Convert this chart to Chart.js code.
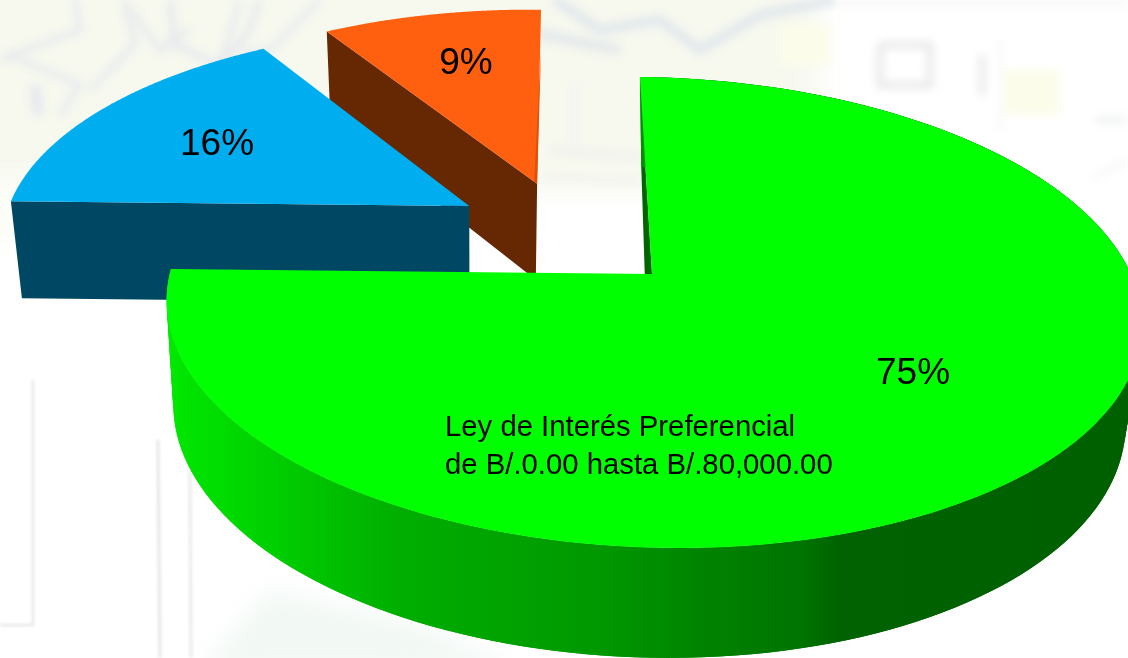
<!DOCTYPE html>
<html><head><meta charset="utf-8">
<style>html,body{margin:0;padding:0;background:#fff;overflow:hidden}canvas{display:block}</style>
<script src="https://cdn.jsdelivr.net/npm/chart.js@4"></script>
</head><body><canvas id="c" width="1128" height="658"></canvas>
<script>
const categories = ["Ley de Interés Preferencial de B/.0.00 hasta B/.80,000.00", "Segundo tramo", "Tercer tramo"];
const shares = [75, 16, 9];
const topColors = ["#00ff00", "#00aeef", "#ff6010"];
const wallColors = ["#006400", "#004763", "#662803"];
const annotationLines = ["Ley de Interés Preferencial", "de B/.0.00 hasta B/.80,000.00"];
const explode = [[0, 0], [-0.39, 0.3025], [-0.243, 0.415]];
const labelSpots = [[913, 374], [217, 145], [466, 64]];

// perspective view of the pie's ground plane
const view = {cx: 652, cy: 274, rx: 481, ry: 229, k: 0.1635, shear: 0.061, roll: 0.0104};
function project(X, Y, low, lean) {
  const w = 1 + view.k * Y;
  const up = view.ry * Y / w;
  let x = view.cx + view.rx * X / w - view.shear * up;
  let y = view.cy - up + view.roll * (x - view.cx);
  if (low) {
    x += 0.0234 * (481 - x) + lean * Y;
    y += 100 - 10 * Y;
  }
  return [x, y];
}
function ringPoints(arc, i, low) {
  const pts = [];
  const n = 160;
  const [ox, oy] = explode[i];
  for (let j = 0; j <= n; j++) {
    const t = arc.startAngle + (arc.endAngle - arc.startAngle) * j / n + Math.PI / 2;
    pts.push(project(ox + Math.sin(t), oy + Math.cos(t), low, i === 0 ? 5 : 0));
  }
  return pts;
}
function fillPoly(ctx, pts, fill) {
  ctx.beginPath();
  pts.forEach((p, j) => j ? ctx.lineTo(p[0], p[1]) : ctx.moveTo(p[0], p[1]));
  ctx.closePath();
  ctx.fillStyle = fill;
  ctx.fill();
}
const pie3d = {
  id: "pie3d",
  beforeDatasetDraw(chart) {
    const ctx = chart.ctx;
    const arcs = chart.getDatasetMeta(0).data;
    ctx.save();
    // far slices first
    [2, 1, 0].forEach(i => {
      const arc = arcs[i];
      const top = ringPoints(arc, i, false);
      const low = ringPoints(arc, i, true);
      const lean = i === 0 ? 5 : 0;
      const a = project(explode[i][0], explode[i][1], false, lean);
      const b = project(explode[i][0], explode[i][1], true, lean);
      fillPoly(ctx, [a, top[0], low[0], b], wallColors[i]);
      if (i === 0) {
        const g = ctx.createLinearGradient(170, 0, 1128, 0);
        [[0, "#00e800"], [0.136, "#00c800"], [0.24, "#00ae00"], [0.45, "#009800"], [0.553, "#008400"], [0.658, "#007400"], [0.7, "#006200"], [1, "#006000"]]
          .forEach(s => g.addColorStop(s[0], s[1]));
        // the curved outer wall, strip by strip
        for (let j = 0; j < top.length - 1; j++) {
          const k = Math.min(j + 2, top.length - 1);
          fillPoly(ctx, [top[j], top[k], low[k], low[j]], g);
        }
      }
      fillPoly(ctx, [a].concat(top), topColors[i]);
      if (i === 2) {
        const e = top[top.length - 1];
        fillPoly(ctx, [[e[0], e[1] + 40], a, [a[0] - 3, a[1] - 2]], "#e0500a");
      }
    });
    ctx.restore();
    return false;
  },
  afterDatasetsDraw(chart) {
    const ctx = chart.ctx;
    ctx.save();
    ctx.fillStyle = "#000";
    ctx.font = "37px 'Liberation Sans', Arial, sans-serif";
    ctx.textAlign = "center";
    ctx.textBaseline = "middle";
    shares.forEach((v, i) => ctx.fillText(v + "%", labelSpots[i][0], labelSpots[i][1]));
    ctx.font = "29.3px 'Liberation Sans', Arial, sans-serif";
    ctx.textAlign = "left";
    ctx.textBaseline = "alphabetic";
    annotationLines.forEach((t, i) => ctx.fillText(t, 445, 436 + i * 38));
    ctx.restore();
  }
};
const backdrop = {
  id: "backdrop",
  beforeDraw(chart) {
    const ctx = chart.ctx;
    ctx.save();
    ctx.fillStyle = "#fff";
    ctx.fillRect(0, 0, 1128, 658);
    ctx.filter = "blur(14px)";
    ctx.fillStyle = "#f7f9ef";
    ctx.fillRect(-40, -40, 860, 230);
    ctx.fillStyle = "#fcfdf6";
    ctx.fillRect(-40, 180, 120, 60);
    ctx.filter = "blur(4px)";
    const line = (pts, c, w) => {
      ctx.beginPath();
      pts.forEach((p, j) => j ? ctx.lineTo(p[0], p[1]) : ctx.moveTo(p[0], p[1]));
      ctx.strokeStyle = c; ctx.lineWidth = w; ctx.stroke();
    };
    const grey = "#e6e9ed";
    line([[0, 60], [80, 30], [75, 0]], grey, 6);
    line([[10, 55], [80, 85], [60, 115]], grey, 6);
    line([[35, 85], [38, 115]], grey, 12);
    line([[125, 0], [135, 45], [90, 90]], grey, 6);
    line([[130, 10], [160, 50], [190, 30]], grey, 6);
    line([[170, 0], [175, 45], [220, 65], [250, 30], [258, 0]], grey, 7);
    line([[240, 0], [220, 70]], grey, 6);
    line([[320, 0], [270, 50], [240, 50]], grey, 6);
    line([[555, 0], [600, 30], [660, 20], [700, 50], [760, 15], [835, 0]], "#e2e7ec", 10);
    line([[520, 30], [620, 50]], "#e6eaea", 12);
    line([[550, 150], [640, 156]], "#e6e8e8", 3);
    line([[545, 178], [640, 182]], "#e9eae8", 3);
    line([[575, 85], [575, 150]], "#f2f0f7", 4);
    line([[880, 45], [930, 45], [930, 85], [880, 85], [880, 45]], "#e9e9eb", 7);
    line([[982, 55], [982, 95]], "#e7e7e9", 6);
    line([[840, 3], [1128, 3]], "#efefef", 3);
    ctx.fillStyle = "#fcfcea"; ctx.fillRect(1005, 70, 55, 45);
    ctx.fillRect(780, 25, 50, 40);
    line([[1000, 40], [1000, 130]], "#f0f0f0", 2);
    line([[1095, 120], [1128, 120]], "#e8eaec", 4);
    line([[1090, 180], [1128, 160]], "#f0f0f0", 3);
    ctx.filter = "blur(1.5px)";
    line([[33, 380], [33, 625], [0, 625]], "#e2e2e6", 2);
    line([[158, 440], [160, 658]], "#e8e4e4", 3);
    line([[190, 470], [191, 658]], "#ece8e8", 3);
    ctx.filter = "blur(12px)";
    ctx.fillStyle = "#f2f8f4";
    ctx.beginPath(); ctx.moveTo(200, 670); ctx.lineTo(270, 590); ctx.lineTo(420, 625); ctx.lineTo(520, 670); ctx.fill();
    ctx.restore();
  }
};
new Chart(document.getElementById("c"), {
  type: "pie",
  data: {labels: categories, datasets: [{data: shares, backgroundColor: topColors, borderWidth: 0}]},
  options: {
    responsive: false,
    animation: false,
    layout: {padding: 0},
    plugins: {legend: {display: false}, tooltip: {enabled: false}, title: {display: false}}
  },
  plugins: [backdrop, pie3d]
});
</script></body></html>
